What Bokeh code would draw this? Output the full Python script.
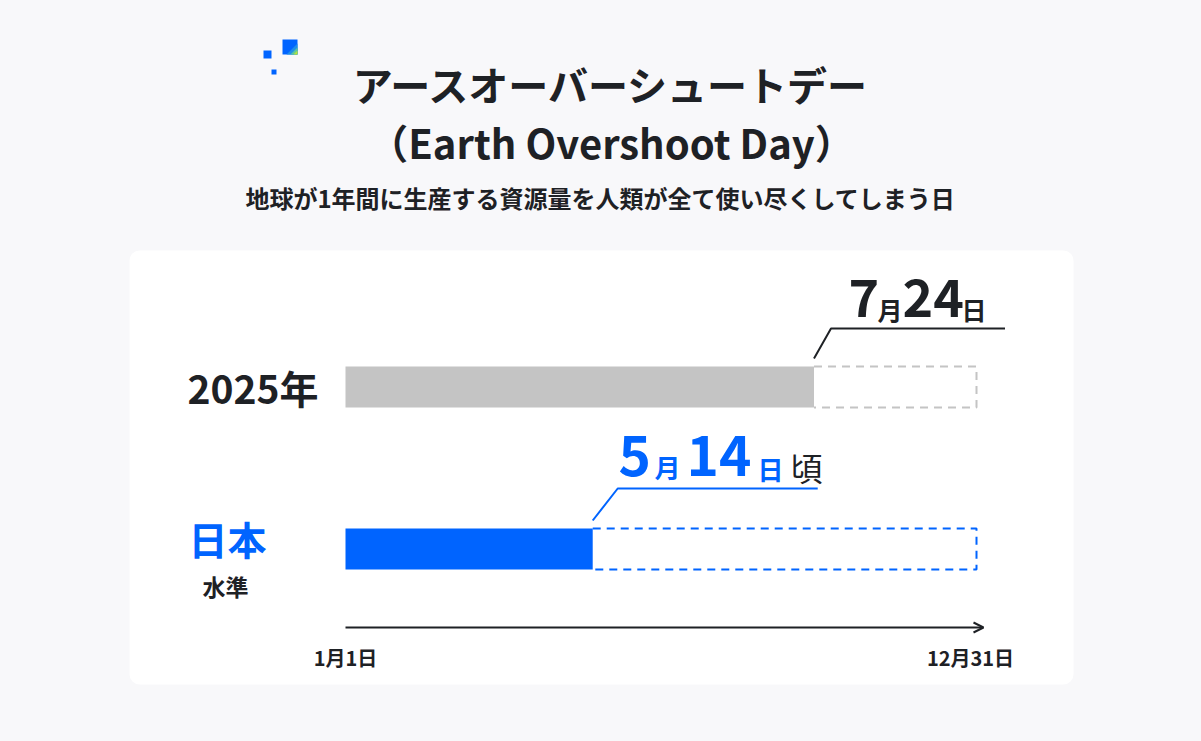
from bokeh.plotting import figure
from bokeh.models import Range1d, BoxAnnotation, Arrow, OpenHead
from bokeh.core.properties import value
from bokeh.embed import file_html
from bokeh.resources import INLINE

# ---------------- data ----------------
rows = ["2025年", "日本"]
row_sub = ["", "水準"]
bar_days = [271, 143]          # bar length (days of year)
year_days = 365
tick_days = [0, 365]
tick_labels = ["1月1日", "12月31日"]

# ---------------- styling ----------------
BG = "#f8f8fa"
DARK = "#1e2125"
BLUE = "#0064ff"
GRAY = "#c4c4c4"
FONT = value("Noto Sans CJK JP")

W, H = 1185, 725
X0, X1 = 345, 976   # day 0 and day 365 on screen
k = (X1 - X0) / year_days
days_start = -X0 / k
days_end = year_days + (W - X1) / k

p = figure(width=W, height=H, output_backend="svg", toolbar_location=None,
           x_range=Range1d(0, W), y_range=Range1d(H, 0),
           min_border=0, outline_line_color=None,
           background_fill_color=BG, border_fill_color=BG)
p.extra_x_ranges = {"days": Range1d(days_start, days_end)}
p.axis.visible = False
p.grid.visible = False

# card
p.add_layout(BoxAnnotation(left=129, right=1073, top=250, bottom=684,
                           fill_color="white", fill_alpha=1, line_alpha=0,
                           border_radius=10, level="underlay"))

# logo
p.quad(left=[263, 271, 282], right=[271, 276, 297], top=[50, 69, 39], bottom=[58, 74, 54],
       fill_color=BLUE, line_color=None)
p.patch(x=[297, 297, 286], y=[43, 54, 54], fill_color="#1f8ee8", line_color=None)
p.patch(x=[297, 297, 290], y=[47, 54, 54], fill_color="#5cc79a", line_color=None)
p.patch(x=[297, 297, 293], y=[50, 54, 54], fill_color="#b5e43a", line_color=None)

# titles
p.text(x=[611, 611], y=[83, 141], text=["アースオーバーシュートデー", "（Earth Overshoot Day）"],
       text_font=FONT, text_font_size="40px", text_font_style="bold",
       text_color=DARK, text_align="center", text_baseline="middle")
p.text(x=[600], y=[197], text=["地球が1年間に生産する資源量を人類が全て使い尽くしてしまう日"],
       text_font=FONT, text_font_size="24px", text_font_style="bold",
       text_color=DARK, text_align="center", text_baseline="middle")

# bars
bar_y = [386.5, 548.5]
bar_h = 41
colors = [GRAY, BLUE]
for yy, d, c in zip(bar_y, bar_days, colors):
    t, b = yy - bar_h / 2, yy + bar_h / 2
    p.line(x=[d, year_days, year_days, d], y=[t, t, b, b], x_range_name="days",
           line_color=c, line_width=2, line_dash="8 6")
    p.hbar(y=[yy], left=[0], right=[d], height=bar_h, x_range_name="days",
           fill_color=c, line_color=None)

# row labels
p.text(x=[318], y=[386], text=[rows[0]], text_font=FONT, text_font_size="39px",
       text_font_style="bold", text_color=DARK, text_align="right", text_baseline="middle")
p.text(x=[227], y=[537], text=[rows[1]], text_font=FONT, text_font_size="39px",
       text_font_style="bold", text_color=BLUE, text_align="center", text_baseline="middle")
p.text(x=[225], y=[585], text=[row_sub[1]], text_font=FONT, text_font_size="23px",
       text_font_style="bold", text_color=DARK, text_align="center", text_baseline="middle")

# callout leader lines (start at bar ends, via days scale)
for d, yy, c, rise, dx, xlen in [(bar_days[0], bar_y[0], DARK, 30, 17, 174),
                                  (bar_days[1], bar_y[1], BLUE, 32, 25, 200)]:
    top = yy - bar_h / 2 - 8
    d2 = d + dx / k
    d3 = d2 + xlen / k
    p.line(x=[d, d2, d3], y=[top, top - rise, top - rise], x_range_name="days",
           line_color=c, line_width=2)

# date label 2025: 7月24日
p.text(x=[848, 902], y=[297, 297], text=["7", "24"], text_font=FONT, text_font_size="52px",
       text_font_style="bold", text_color=DARK, text_align="left", text_baseline="middle")
p.text(x=[877, 961], y=[308, 308], text=["月", "日"], text_font=FONT, text_font_size="25px",
       text_font_style="bold", text_color=DARK, text_align="left", text_baseline="middle")

# date label Japan: 5月14日 頃
p.text(x=[618, 686], y=[455, 455], text=["5", "14"], text_font=FONT, text_font_size="55px",
       text_font_style="bold", text_color=BLUE, text_align="left", text_baseline="middle")
p.text(x=[654, 757], y=[466, 468], text=["月", "日"], text_font=FONT, text_font_size="26px",
       text_font_style="bold", text_color=BLUE, text_align="left", text_baseline="middle")
p.text(x=[790], y=[466], text=["頃"], text_font=FONT, text_font_size="32px",
       text_font_style="normal", text_color=DARK, text_align="left", text_baseline="middle")

# time axis with arrow
p.add_layout(Arrow(x_start=tick_days[0], x_end=tick_days[1] + 7 / k, y_start=627, y_end=627,
                   x_range_name="days", line_color=DARK, line_width=2,
                   end=OpenHead(size=10, line_color=DARK, line_width=2)))
p.text(x=tick_days, y=[657, 657], text=tick_labels, x_range_name="days",
       text_font=FONT, text_font_size="20px", text_font_style="bold",
       text_color=DARK, text_align="center", text_baseline="middle",
       x_offset=[0, -6])

html = file_html(p, INLINE)
html = html.replace("</head>", "<style>html,body{background:%s;}</style></head>" % BG, 1)
open("out.html", "w").write(html)
